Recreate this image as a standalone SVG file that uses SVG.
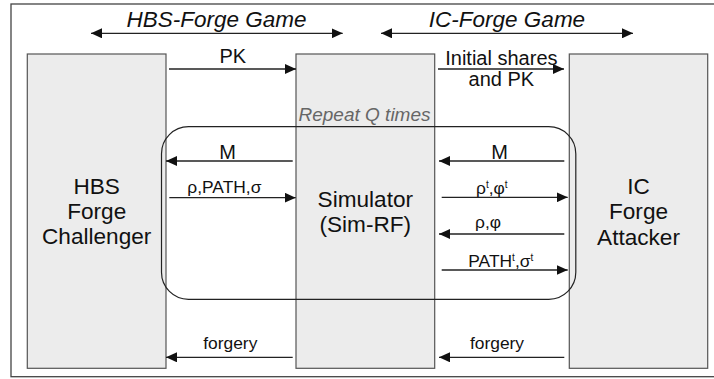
<svg xmlns="http://www.w3.org/2000/svg" width="714" height="379" viewBox="0 0 714 379">
<defs>
<marker id="ah" markerWidth="12" markerHeight="10" refX="11" refY="5" orient="auto-start-reverse" markerUnits="userSpaceOnUse"><path d="M0,0 L11,5 L0,10 z" fill="#111"/></marker>
<style>
.box{fill:#ececec;stroke:#555;stroke-width:1.2}
.t{font-family:"Liberation Sans",Arial,sans-serif;fill:#111}
.big{font-size:22.6px;text-anchor:middle}
.title{font-size:22.5px;font-style:italic;text-anchor:middle}
.lbl{font-size:20px}
.sm{font-size:17.4px}
.c{stroke:#222;stroke-width:1.3;fill:none;marker-end:url(#ah)}
.d{stroke:#222;stroke-width:1.3;fill:none;marker-end:url(#ah);marker-start:url(#ah)}
</style>
</defs>
<rect x="0" y="0" width="714" height="379" fill="#fff"/>
<rect x="11" y="4" width="706" height="372.7" fill="none" stroke="#444" stroke-width="1.3"/>

<g id="titles">
<text class="t title" x="216.5" y="27">HBS-Forge Game</text>
<text class="t title" x="507" y="27">IC-Forge Game</text>
</g>

<g id="challenger">
<rect class="box" x="27.3" y="54" width="138.7" height="314.3"/>
<text class="t big" x="96.7" y="194">HBS</text>
<text class="t big" x="96.7" y="219">Forge</text>
<text class="t big" x="96.7" y="244">Challenger</text>
</g>

<g id="simulator">
<rect class="box" x="296" y="54" width="138.7" height="314.3"/>
<text class="t big" x="365.3" y="206.7">Simulator</text>
<text class="t big" x="365.3" y="231.7">(Sim-RF)</text>
</g>

<g id="attacker">
<rect class="box" x="569.3" y="54" width="138.4" height="314.3"/>
<text class="t big" x="638.5" y="194">IC</text>
<text class="t big" x="638.5" y="219">Forge</text>
<text class="t big" x="638.5" y="245">Attacker</text>
</g>

<g id="loop">
<rect x="161.5" y="126.7" width="414.3" height="172.6" rx="27" ry="27" fill="none" stroke="#222" stroke-width="1.2"/>
<text class="t" x="364.5" y="120.7" style="font-size:19px;font-style:italic;text-anchor:middle;fill:#666">Repeat Q times</text>
</g>

<g id="connectors">
<line class="d" x1="91" y1="33.3" x2="342.7" y2="33.3"/>
<line class="d" x1="381" y1="33.3" x2="633" y2="33.3"/>

<line class="c" x1="169" y1="69" x2="296" y2="69"/>
<line class="c" x1="438" y1="69" x2="564" y2="69"/>

<line class="c" x1="292.7" y1="161" x2="166" y2="161"/>
<line class="c" x1="169.3" y1="197.7" x2="295.7" y2="197.7"/>

<line class="c" x1="564.3" y1="161" x2="439" y2="161"/>
<line class="c" x1="441.7" y1="197.3" x2="567.7" y2="197.3"/>
<line class="c" x1="564.3" y1="234" x2="439" y2="234"/>
<line class="c" x1="441.7" y1="270" x2="567.7" y2="270"/>

<line class="c" x1="292.7" y1="357.3" x2="166" y2="357.3"/>
<line class="c" x1="564.3" y1="357.3" x2="439" y2="357.3"/>
</g>

<g id="labels">
<text class="t lbl" x="232.8" y="63" text-anchor="middle">PK</text>
<text class="t lbl" x="501.4" y="65" text-anchor="middle">Initial shares</text>
<text class="t lbl" x="501.4" y="86" text-anchor="middle">and PK</text>
<text class="t lbl" x="227.7" y="159" text-anchor="middle">M</text>
<text class="t sm" x="187.3" y="192.7">ρ,PATH,σ</text>
<text class="t lbl" x="499.7" y="159" text-anchor="middle">M</text>
<text class="t sm" x="476" y="194">ρ<tspan font-size="10" dy="-6">t</tspan><tspan dy="6">,φ</tspan><tspan font-size="10" dy="-6">t</tspan></text>
<text class="t sm" x="475" y="228">ρ,φ</text>
<text class="t sm" x="468.3" y="266.7">PATH<tspan font-size="10" dy="-6">t</tspan><tspan dy="6">,σ</tspan><tspan font-size="10" dy="-6">t</tspan></text>
<text class="t sm" x="230.3" y="349" text-anchor="middle">forgery</text>
<text class="t sm" x="497" y="349" text-anchor="middle">forgery</text>
</g>
</svg>
